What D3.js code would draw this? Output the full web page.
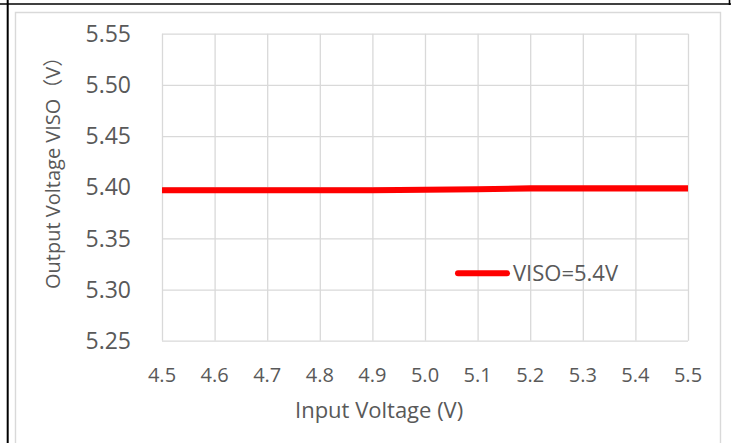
<!DOCTYPE html>
<html>
<head>
<meta charset="utf-8">
<script src="https://cdn.jsdelivr.net/npm/d3@7"></script>
<style>
  html, body { margin: 0; padding: 0; background: #fff; }
  svg { display: block; }
  text { font-family: "Open Sans", "Noto Sans CJK SC", sans-serif; fill: #595959; }
</style>
</head>
<body>
<svg id="chart" width="731" height="443"></svg>
<script>
// ---- data ----
const inputVoltage = [4.5, 4.6, 4.7, 4.8, 4.9, 5.0, 5.1, 5.2, 5.3, 5.4, 5.5];
const visoOutput   = [5.397, 5.397, 5.397, 5.397, 5.397, 5.3975, 5.398, 5.3988, 5.3988, 5.3989, 5.3989];
const seriesName = "VISO=5.4V";
const xTicks = [4.5, 4.6, 4.7, 4.8, 4.9, 5.0, 5.1, 5.2, 5.3, 5.4, 5.5];
const yTicks = [5.25, 5.30, 5.35, 5.40, 5.45, 5.50, 5.55];
const xTitle = "Input Voltage (V)";
const yTitle = "Output Voltage VISO（V）";

const svg = d3.select("#chart");
const grid = "#d9d9d9";

// outer table lines
svg.append("line").attr("x1", 0).attr("x2", 731).attr("y1", 4).attr("y2", 4)
  .attr("stroke", "#000").attr("stroke-width", 1.6);
svg.append("line").attr("x1", 7.7).attr("x2", 7.7).attr("y1", 0).attr("y2", 443)
  .attr("stroke", "#000").attr("stroke-width", 2);
svg.append("line").attr("x1", 729.5).attr("x2", 729.5).attr("y1", 0).attr("y2", 5)
  .attr("stroke", "#000").attr("stroke-width", 1.6);

// chart area border (light gray)
svg.append("path").attr("d", "M15.5,443 V12.5 H720.5 V443")
  .attr("fill", "none").attr("stroke", grid).attr("stroke-width", 1.4);

// scales
const x = d3.scaleLinear().domain([4.5, 5.5]).range([162, 688]);
const y = d3.scaleLinear().domain([5.25, 5.55]).range([340.7, 33.7]);

// gridlines
const gx = d3.axisBottom(x).tickValues(xTicks).tickSize(-(y(5.25) - y(5.55))).tickFormat("");
svg.append("g").attr("transform", `translate(0,${y(5.25)})`).call(gx)
  .call(g => g.select(".domain").remove())
  .call(g => g.selectAll("line").attr("stroke", grid).attr("stroke-width", 1.3));
const gy = d3.axisLeft(y).tickValues(yTicks).tickSize(-(x(5.5) - x(4.5))).tickFormat("");
svg.append("g").attr("transform", `translate(${x(4.5)},0)`).call(gy)
  .call(g => g.select(".domain").remove())
  .call(g => g.selectAll("line").attr("stroke", grid).attr("stroke-width", 1.3));

// tick labels
svg.append("g").selectAll("text").data(xTicks).join("text")
  .attr("x", d => x(d)).attr("y", 382)
  .attr("text-anchor", "middle").attr("font-size", 20)
  .text(d => d.toFixed(1));
svg.append("g").selectAll("text").data(yTicks).join("text")
  .attr("x", 131).attr("y", d => y(d) + 8.2)
  .attr("text-anchor", "end").attr("font-size", 23)
  .text(d => d.toFixed(2));

// axis titles
svg.append("text").attr("x", 295).attr("y", 418).attr("font-size", 22).text(xTitle);
svg.append("text").attr("transform", "translate(60,289) rotate(-90)")
  .attr("font-size", 20).text(yTitle);

// data line
const line = d3.line().x((d, i) => x(inputVoltage[i])).y(d => y(d));
svg.append("path").datum(visoOutput).attr("d", line)
  .attr("fill", "none").attr("stroke", "#ff0000").attr("stroke-width", 6.2)
  .attr("stroke-linejoin", "round").attr("stroke-linecap", "butt");

// legend
svg.append("line").attr("x1", 458).attr("x2", 507).attr("y1", 273.3).attr("y2", 273.3)
  .attr("stroke", "#ff0000").attr("stroke-width", 6).attr("stroke-linecap", "round");
svg.append("text").attr("x", 513).attr("y", 281).attr("font-size", 22).text(seriesName);
</script>
</body>
</html>
